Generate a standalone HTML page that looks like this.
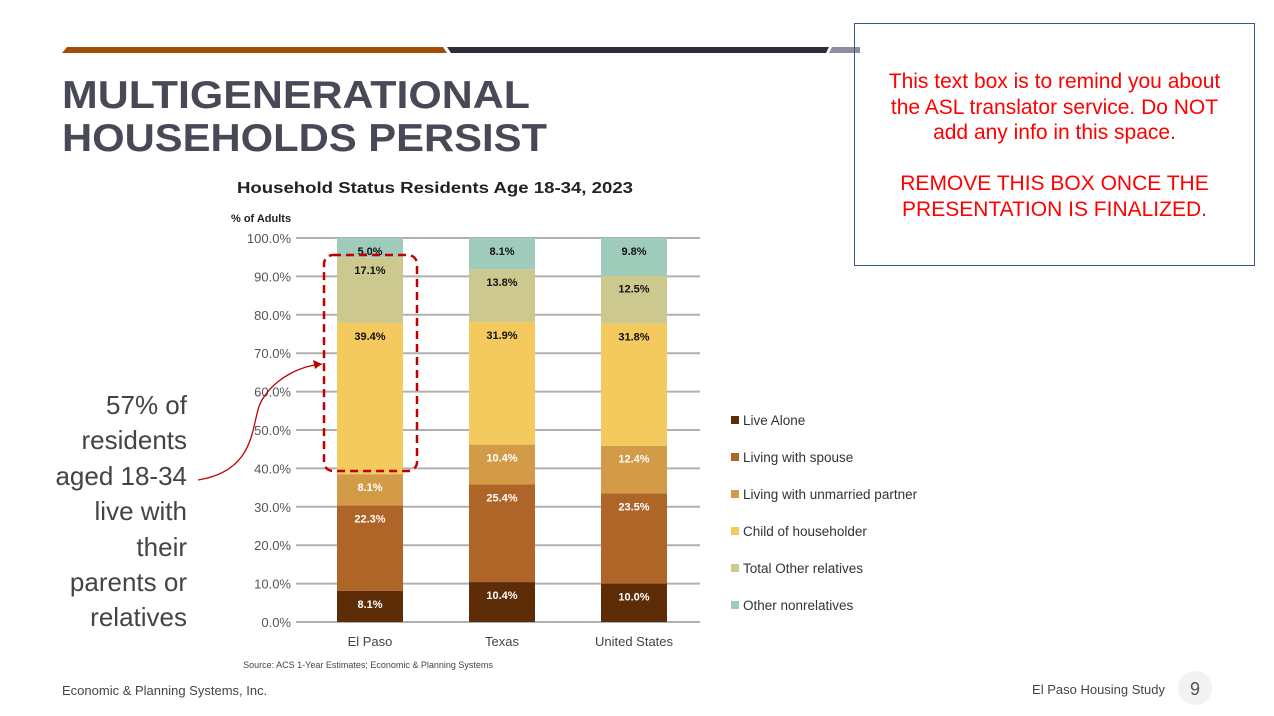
<!DOCTYPE html>
<html><head><meta charset="utf-8"><style>
body{margin:0;width:1274px;height:716px;background:#fff;overflow:hidden;position:relative;font-family:"Liberation Sans",sans-serif}
.abs{position:absolute}
</style></head><body>
<svg class="abs" style="left:0;top:0" width="1274" height="716">
<polygon points="62,53 67,47 443,47 447,53" fill="#a04e08"/>
<polygon points="447,47 829,47 826,53 451,53" fill="#2e2f36"/>
<polygon points="832,47 860,47 860,53 829,53" fill="#8e8ea0"/>
<text x="62" y="108" font-size="39" font-weight="bold" fill="#474a56" textLength="468" lengthAdjust="spacingAndGlyphs">MULTIGENERATIONAL</text>
<text x="62" y="151" font-size="39" font-weight="bold" fill="#474a56" textLength="485" lengthAdjust="spacingAndGlyphs">HOUSEHOLDS PERSIST</text>
<text x="237" y="193" font-size="16" font-weight="bold" fill="#222" textLength="396" lengthAdjust="spacingAndGlyphs">Household Status Residents Age 18-34, 2023</text>
<text x="231" y="222" font-size="11" font-weight="bold" fill="#222">% of Adults</text>
<g id="chart"></g>
<g fill="#444" text-anchor="end" font-size="26">
<text x="187" y="414">57% of</text>
<text x="187" y="449">residents</text>
<text x="187" y="485">aged 18-34</text>
<text x="187" y="520">live with</text>
<text x="187" y="556">their</text>
<text x="187" y="591">parents or</text>
<text x="187" y="626">relatives</text>
</g>
<path d="M198,480 C260,470 250,420 262,400 C275,378 300,366 322,364" fill="none" stroke="#c00000" stroke-width="1.3"/>
<polygon points="322,364 313,360 315,369" fill="#c00000"/>
<rect x="324" y="255" width="93" height="216" rx="9" fill="none" stroke="#c00000" stroke-width="2.5" stroke-dasharray="8,5"/>
<text x="368" y="668" font-size="9" fill="#444" text-anchor="middle">Source: ACS 1-Year Estimates; Economic &amp; Planning Systems</text>
<text x="62" y="695" font-size="13" fill="#444">Economic &amp; Planning Systems, Inc.</text>
<text x="1165" y="694" font-size="13" fill="#444" text-anchor="end">El Paso Housing Study</text>
<circle cx="1195" cy="688" r="17" fill="#f2f2f2"/>
<text x="1195" y="695" font-size="18" fill="#555" text-anchor="middle">9</text>
</svg>
<div class="abs" style="left:854px;top:23px;width:401px;height:243px;border:1.5px solid #2f5597;box-sizing:border-box;color:#ff0000;font-size:21px;text-align:center;line-height:25.5px;padding-top:45px;white-space:nowrap">This text box is to remind you about<br>the ASL translator service. Do NOT<br>add any info in this space.<br><br>REMOVE THIS BOX ONCE THE<br>PRESENTATION IS FINALIZED.</div>
<script>
const categories=["El Paso","Texas","United States"];
const seriesNames=["Live Alone","Living with spouse","Living with unmarried partner","Child of householder","Total Other relatives","Other nonrelatives"];
const liveAlone=[8.1,10.4,10.0];
const spouse=[22.3,25.4,23.5];
const partner=[8.1,10.4,12.4];
const child=[39.4,31.9,31.8];
const otherRel=[17.1,13.8,12.5];
const nonRel=[5.0,8.1,9.8];
const yTicks=[0,10,20,30,40,50,60,70,80,90,100];
const series=[liveAlone,spouse,partner,child,otherRel,nonRel];
const colors=["#5e2d08","#af6428","#d39a48","#f4c95d","#cdc98e","#9fcbbb"];
const textCol=["#fff","#fff","#fff","#111","#111","#111"];
const NS="http://www.w3.org/2000/svg";
const g=document.getElementById('chart');
const y=v=>622-3.84*v;
const x=i=>337+i*132;
const bw=66;
function mk(t,a,txt){const e=document.createElementNS(NS,t);for(const k in a)e.setAttribute(k,a[k]);if(txt!=null)e.textContent=txt;g.appendChild(e);return e;}
yTicks.forEach(t=>{
 const l=mk('line',{x1:296,x2:700,y1:y(t),y2:y(t),stroke:'#b0b0b0','stroke-width':2});
 
 
 const tx=mk('text',{x:291,y:y(t)+5,'font-size':13,fill:'#555','text-anchor':'end'},t.toFixed(1)+'%');
 
 
});
categories.forEach((c,i)=>{
 let cum=0;
 series.forEach((s,j)=>{
  const v=s[i];
  const r=mk('rect',{x:x(i),y:y(cum+v),width:bw,height:3.84*v,fill:colors[j]});
  
  
  const t=mk('text',{x:x(i)+bw/2,y:y(cum+v)+17,'font-size':11,'font-weight':'bold',fill:textCol[j],'text-anchor':'middle'},v.toFixed(1)+'%');
  
  
  cum+=v;
 });
 const cl=mk('text',{x:x(i)+bw/2,y:646,'font-size':13,fill:'#444','text-anchor':'middle'},c);
 
 
});
seriesNames.forEach((n,j)=>{
 const yy=421+j*37;
 const r=mk('rect',{x:731,y:yy-5,width:8,height:8,fill:colors[j]});
 
 
 const t=mk('text',{x:743,y:yy+4,'font-size':13.5,fill:'#333'},n);
 
 
});
</script>
</body></html>
